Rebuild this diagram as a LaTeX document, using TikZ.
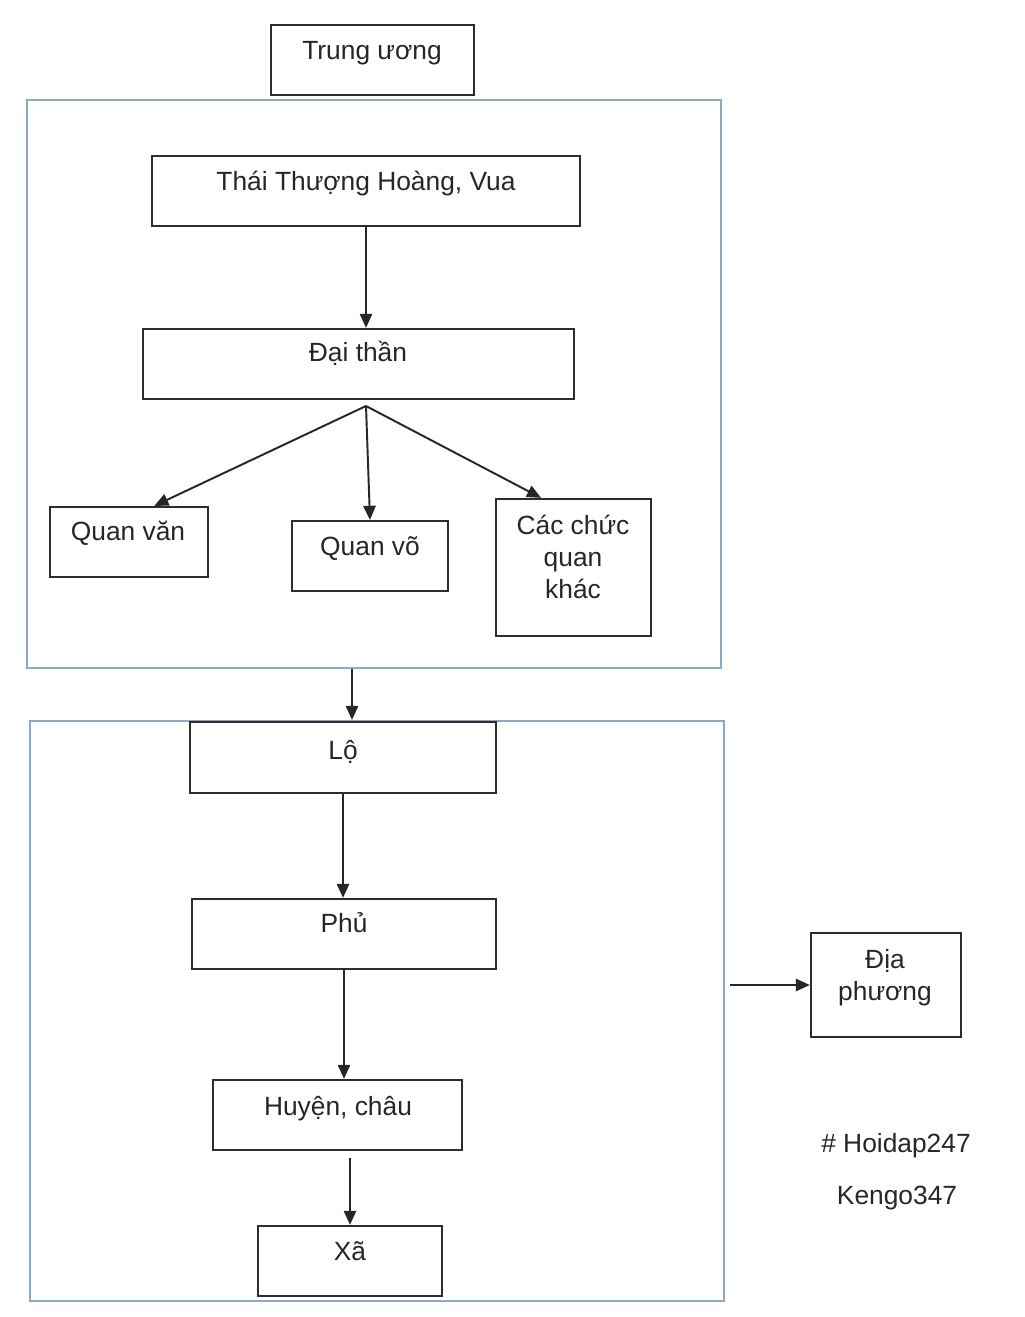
\documentclass[tikz,border=0pt]{standalone}
\usepackage{fontspec}
\setmainfont{Liberation Sans}
\usetikzlibrary{fit,arrows.meta}
\definecolor{khungxanh}{RGB}{140,170,196}
\definecolor{netxam}{RGB}{45,45,45}

\begin{document}
\begin{tikzpicture}[x=0.02cm,y=-0.02cm,
    box/.style={draw=netxam, line width=1.3pt, inner sep=0pt},
    khoi/.style={draw=khungxanh, line width=1.2pt, inner sep=0pt},
    txt/.style={anchor=base, inner sep=0pt, align=center, text=black!85,
      font=\fontsize{15}{18.2}\selectfont},
    arr/.style={line width=1.1pt, draw=black!85, -{Triangle[length=8pt,width=7pt]}}]
  \useasboundingbox (0,0) rectangle (1024,1317);

  \node[khoi, fit={(27,100) (721,668)}] (khoi1) {};
  \node[khoi, fit={(30,721) (724,1301)}] (khoi2) {};

  \foreach \n/\xa/\ya/\xb/\yb in {trunguong/271/25/474/95, vua/152/156/580/226,
      daithan/143/329/574/399, quanvan/50/507/208/577, quanvo/292/521/448/591,
      quankhac/496/499/651/636, lo/190/722/496/793, phu/192/899/496/969,
      huyen/213/1080/462/1150, xa/258/1226/442/1296, diaphuong/811/933/961/1037}
    \node[box, fit={(\xa,\ya) (\xb,\yb)}] (\n) {};

  \foreach \n/\x/\y/\t in {trunguong/372/60/{Trung ương}, vua/366/191/{Thái Thượng Hoàng, Vua},
      daithan/358/362/{Đại thần}, quanvan/128/540/{Quan văn}, quanvo/370/555/{Quan võ},
      quankhac/573/598/{Các chức\\quan\\khác}, lo/343/759/{Lộ}, phu/344/932/{Phủ},
      huyen/338/1115/{Huyện, châu}, xa/350/1260/{Xã}, diaphuong/885/1000/{Địa\\phương}}
    \node[txt] (\n-t) at (\x,\y) {\t};

  \node[txt] (hoidap) at (896,1152) {\# Hoidap247};
  \node[txt] (kengo) at (897,1204) {Kengo347};

  \coordinate (fork) at (366,406);
  \draw[arr] (vua.south) -- (vua.south |- daithan.north);
  \draw[arr] (fork) -- (quanvan.55);
  \draw[arr] (fork) -- (quanvo.north);
  \draw[arr] (fork) -- (quankhac.115);
  \draw[arr] ([xshift=-0.44cm]khoi1.south) -- ([xshift=-0.44cm]khoi1.south |- khoi2.north);
  \draw[arr] (lo.south) -- (lo.south |- phu.north);
  \draw[arr] (phu.south) -- (phu.south |- huyen.north);
  \draw[arr, shorten <=0.14cm] (xa.north |- huyen.south) -- (xa.north);
  \draw[arr, shorten <=0.1cm] (diaphuong.west -| khoi2.east) -- (diaphuong.west);
\end{tikzpicture}
\end{document}
